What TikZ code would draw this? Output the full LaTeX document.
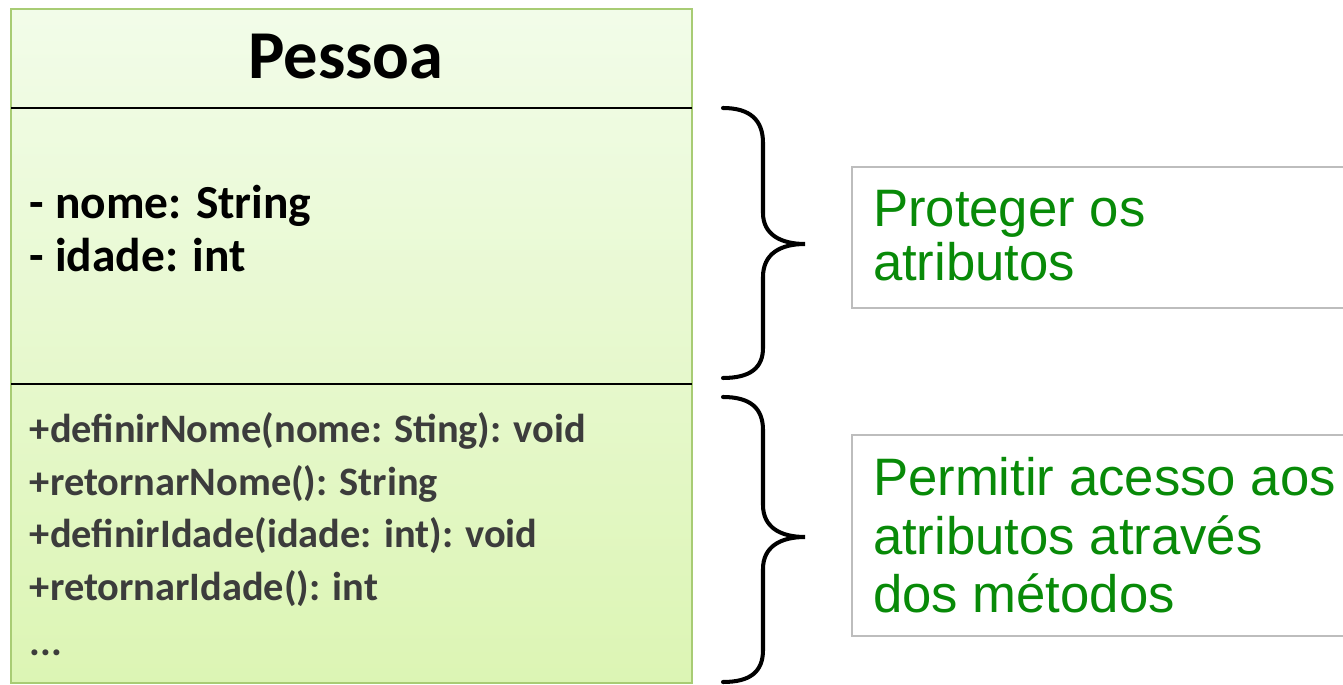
\documentclass[tikz,border=0pt]{standalone}
\usepackage{fontspec}
\setmainfont{Carlito}
\newfontfamily\notefont{Liberation Sans}
\definecolor{classtop}{HTML}{F2FCE9}
\definecolor{classbottom}{HTML}{DCF5B4}
\definecolor{classline}{HTML}{A8CC74}
\definecolor{methodgray}{HTML}{3C3C3C}
\definecolor{notegreen}{HTML}{088A08}
\definecolor{noteline}{HTML}{BDBDBD}

\begin{document}
\begin{tikzpicture}[x=0.02cm,y=-0.02cm,
  every node/.style={inner sep=0pt,outer sep=0pt},
  classtitle/.style={font=\fontsize{39pt}{44pt}\selectfont\bfseries},
  attr/.style={anchor=base west,font=\fontsize{27pt}{32pt}\selectfont\bfseries},
  method/.style={anchor=base west,text=methodgray,font=\fontsize{23pt}{27pt}\selectfont\bfseries},
  notetext/.style={anchor=north west,align=left,text=notegreen,font=\fontsize{30pt}{#1}\notefont},
  notetext/.default=30.6pt,
  notebox/.style={draw=noteline,line width=0.8pt},
  curly/.style={line width=2.3pt,line cap=round}]
\useasboundingbox (0,0) rectangle (1343,685);
% class box
\shade[top color=classtop,bottom color=classbottom] (11,9) rectangle (692,683);
\draw[classline,line width=1.4pt] (11,9) rectangle (692,683);
\draw[line width=1.3pt] (11,108) -- (692,108);
\draw[line width=1.3pt] (11,384) -- (692,384);
\node[classtitle] (pessoa) at (346,57) {Pessoa};
% attributes
\node[attr] (nome) at (30,219) {- nome: String};
\node[attr] (idade) at (30,272) {- idade: int};
% methods
\node[method] (defnome) at (30,443) {+definirNome(nome: Sting): void};
\node[method] (retnome) at (30,496) {+retornarNome(): String};
\node[method] (defidade) at (30,548) {+definirIdade(idade: int): void};
\node[method] (retidade) at (30,601) {+retornarIdade(): int};
\node[method] (mais) at (30,656) {...};
% braces
\draw[curly] (723,108) .. controls (750,108) and (763,120) .. (763,143) -- (763,213)
  .. controls (763,234) and (780,244) .. (805,244)
  .. controls (780,244) and (763,254) .. (763,277) -- (763,348)
  .. controls (763,368) and (750,378) .. (723,378);
\draw[curly] (723,397) .. controls (750,397) and (763,408) .. (763,430) -- (763,505)
  .. controls (763,527) and (780,537) .. (805,537)
  .. controls (780,537) and (763,547) .. (763,569) -- (763,650)
  .. controls (763,672) and (750,682) .. (723,682);
% notes
\draw[notebox] (852,167) rectangle (1380,308);
\node[notetext] (proteger) at (873,190) {Proteger os\\atributos};
\draw[notebox] (852,435) rectangle (1380,636);
\node[notetext=33.5pt] (permitir) at (873,457) {Permitir acesso aos\\atributos através\\dos métodos};
\end{tikzpicture}
\end{document}
